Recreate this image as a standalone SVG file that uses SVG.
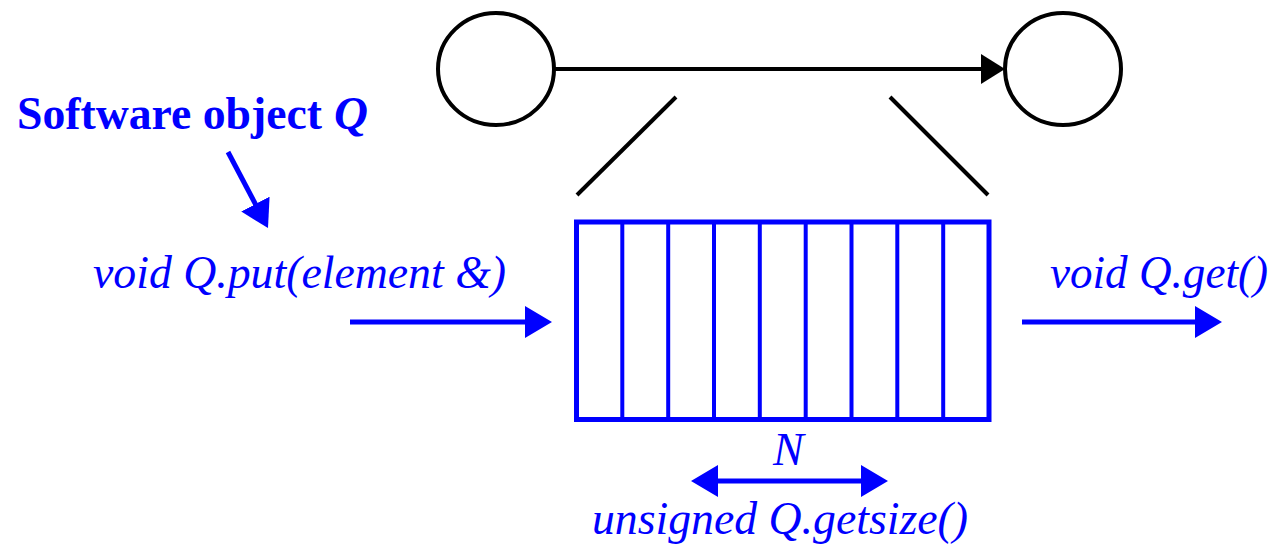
<svg xmlns="http://www.w3.org/2000/svg" width="1274" height="545" viewBox="0 0 1274 545">
  <style>
    .blk { fill: none; stroke: #000; stroke-width: 4; }
    .blu { fill: none; stroke: #0000FF; stroke-width: 5; }
    .lbl { font-family: "Liberation Serif", "Times New Roman", serif; font-size: 46px; fill: #0000FF; font-style: italic; }
    .bold { font-weight: bold; font-style: normal; font-size: 47px; }
  </style>
  <defs>
    <marker id="ahBlk" markerUnits="userSpaceOnUse" markerWidth="24" markerHeight="30" viewBox="0 0 24 30" refX="19" refY="15" orient="auto">
      <path d="M0,0 L24,15 L0,30 Z" fill="#000"/>
    </marker>
    <marker id="ahBlu" markerUnits="userSpaceOnUse" markerWidth="27" markerHeight="32" viewBox="0 0 27 32" refX="21" refY="16" orient="auto-start-reverse">
      <path d="M0,0 L27,16 L0,32 Z" fill="#0000FF"/>
    </marker>
  </defs>
  <rect width="1274" height="545" fill="#fff"/>

  <g id="state-left">
    <ellipse class="blk" cx="496" cy="69" rx="58" ry="56"/>
  </g>
  <g id="state-right">
    <ellipse class="blk" cx="1063" cy="69" rx="58" ry="56"/>
  </g>

  <g id="queue">
    <rect class="blu" x="576.5" y="222" width="412.5" height="197.5"/>
    <g class="blu" style="stroke-width:4">
      <line x1="622.3" y1="222" x2="622.3" y2="419.5"/>
      <line x1="668.2" y1="222" x2="668.2" y2="419.5"/>
      <line x1="714" y1="222" x2="714" y2="419.5"/>
      <line x1="759.8" y1="222" x2="759.8" y2="419.5"/>
      <line x1="805.7" y1="222" x2="805.7" y2="419.5"/>
      <line x1="851.5" y1="222" x2="851.5" y2="419.5"/>
      <line x1="897.3" y1="222" x2="897.3" y2="419.5"/>
      <line x1="943.2" y1="222" x2="943.2" y2="419.5"/>
    </g>
  </g>

  <g id="label-object">
    <text class="lbl bold" x="17" y="129" textLength="305" lengthAdjust="spacingAndGlyphs">Software object</text>
    <text class="lbl bold" x="334" y="129" font-style="italic" style="font-style:italic" textLength="34" lengthAdjust="spacingAndGlyphs">Q</text>
  </g>
  <g id="label-put">
    <text class="lbl" x="93" y="288" textLength="413" lengthAdjust="spacingAndGlyphs">void Q.put(element &amp;)</text>
  </g>
  <g id="label-get">
    <text class="lbl" x="1050" y="288" textLength="218" lengthAdjust="spacingAndGlyphs">void Q.get()</text>
  </g>
  <g id="label-N">
    <text class="lbl" x="773" y="465">N</text>
  </g>
  <g id="label-getsize">
    <text class="lbl" x="592" y="534" textLength="376" lengthAdjust="spacingAndGlyphs">unsigned Q.getsize()</text>
  </g>

  <g id="connectors">
    <line class="blk" x1="555" y1="69" x2="1000" y2="69" marker-end="url(#ahBlk)"/>
    <line class="blk" x1="676" y1="97" x2="577" y2="195"/>
    <line class="blk" x1="890" y1="97" x2="988" y2="195"/>
    <line class="blu" x1="228" y1="152" x2="265.2" y2="222.7" marker-end="url(#ahBlu)"/>
    <line class="blu" x1="350" y1="322" x2="546" y2="322" marker-end="url(#ahBlu)"/>
    <line class="blu" x1="1022" y1="322" x2="1216" y2="322" marker-end="url(#ahBlu)"/>
    <line class="blu" x1="697" y1="481" x2="882" y2="481" marker-start="url(#ahBlu)" marker-end="url(#ahBlu)"/>
  </g>
</svg>
